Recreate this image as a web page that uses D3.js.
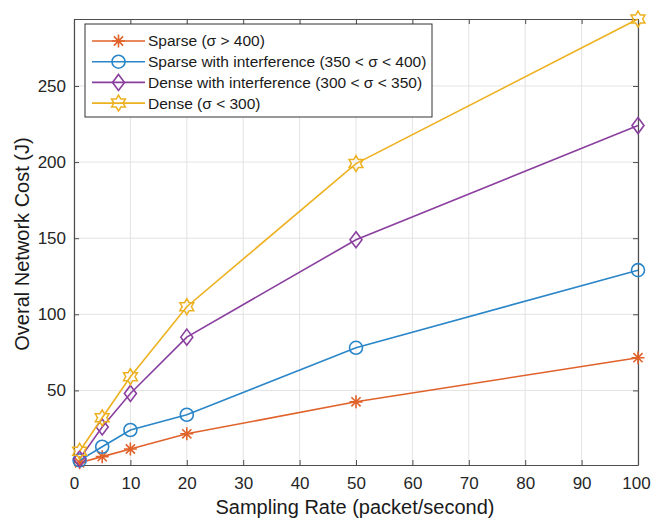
<!DOCTYPE html>
<html><head><meta charset="utf-8">
<script src="https://cdn.jsdelivr.net/npm/d3@7"></script>
<style>body{margin:0;background:#fff}svg{display:block;font-family:"Liberation Sans",Arial,sans-serif}</style>
</head><body><svg id="c" width="651" height="519"></svg>
<script>
const xValues = [1, 5, 10, 20, 50, 100];
const sparse = [2.5, 6.5, 11.5, 21.5, 42.5, 71.5];
const sparseInterf = [4, 13, 24, 34, 78, 129];
const denseInterf = [5, 26, 48, 85, 149, 224];
const dense = [10, 32, 59, 105, 199, 294];
const seriesNames = ["Sparse (σ > 400)", "Sparse with interference (350 < σ < 400)", "Dense with interference (300 < σ < 350)", "Dense (σ < 300)"];
const seriesColors = ["#E0622A", "#2A86C8", "#8A3F9E", "#EDB120"];
const seriesMarkers = ["asterisk", "circle", "diamond", "hexagram"];
const xTicks = [0,10,20,30,40,50,60,70,80,90,100];
const yTicks = [50,100,150,200,250];
const xLabel = "Sampling Rate (packet/second)";
const yLabel = "Overal Network Cost (J)";

const allSeries = [sparse, sparseInterf, denseInterf, dense];
const L = 74, R = 638, T = 19, B = 465;
const svg = d3.select("#c");
const x = d3.scaleLinear().domain([0, 100]).range([L, R]);
const y = d3.scaleLinear().domain([1, 294]).range([B, T]);

// grid
svg.append("g").selectAll("line").data(xTicks).join("line")
  .attr("x1", d => x(d)).attr("x2", d => x(d)).attr("y1", T).attr("y2", B)
  .attr("stroke", "#e3e3e3").attr("stroke-width", 1);
svg.append("g").selectAll("line").data(yTicks).join("line")
  .attr("y1", d => y(d)).attr("y2", d => y(d)).attr("x1", L).attr("x2", R)
  .attr("stroke", "#e3e3e3").attr("stroke-width", 1);

// axes
const ax = svg.append("g").attr("transform", `translate(0,${B})`)
  .call(d3.axisBottom(x).tickValues(xTicks).tickSize(-5).tickPadding(12).tickSizeOuter(0));
const ay = svg.append("g").attr("transform", `translate(${L},0)`)
  .call(d3.axisLeft(y).tickValues(yTicks).tickSize(-5).tickPadding(8).tickSizeOuter(0));
const axt = svg.append("g").attr("transform", `translate(0,${T})`)
  .call(d3.axisTop(x).tickValues(xTicks).tickSize(-5).tickFormat("").tickSizeOuter(0));
const ayr = svg.append("g").attr("transform", `translate(${R},0)`)
  .call(d3.axisRight(y).tickValues(yTicks).tickSize(-5).tickFormat("").tickSizeOuter(0));
[ax, ay, axt, ayr].forEach(g => {
  g.selectAll("path").attr("stroke", "#4d4d4d").attr("stroke-width", 1.2);
  g.selectAll("line").attr("stroke", "#4d4d4d");
  g.selectAll("text").attr("fill", "#262626").style("font-size", "17px").style("font-family", '"Liberation Sans",Arial,sans-serif');
});
ax.selectAll(".tick text").filter(d => d === 100).attr("dx", "-2");

// markers
function hexagramPath(r) {
  const pts = [];
  for (let i = 0; i < 12; i++) {
    const a = -Math.PI / 2 + i * Math.PI / 6;
    const rr = i % 2 === 0 ? r : r / Math.sqrt(3);
    pts.push([rr * Math.cos(a), rr * Math.sin(a)]);
  }
  return "M" + pts.map(p => p.join(",")).join("L") + "Z";
}
function drawMarker(g, type, color) {
  if (type === "circle") g.append("circle").attr("r", 6.5).attr("fill", "none").attr("stroke", color).attr("stroke-width", 1.6);
  else if (type === "diamond") g.append("path").attr("d", "M0,-8L6,0L0,8L-6,0Z").attr("fill", "none").attr("stroke", color).attr("stroke-width", 1.6);
  else if (type === "hexagram") g.append("path").attr("d", hexagramPath(8)).attr("fill", "none").attr("stroke", color).attr("stroke-width", 1.5);
  else {
    const r = 6.5, d = r * Math.SQRT1_2;
    g.append("path").attr("d", `M${-r},0L${r},0M0,${-r}L0,${r}M${-d},${-d}L${d},${d}M${-d},${d}L${d},${-d}`)
      .attr("stroke", color).attr("stroke-width", 1.6).attr("fill", "none");
  }
}

const line = d3.line().x((d, i) => x(xValues[i])).y(d => y(d));
allSeries.forEach((s, k) => {
  const g = svg.append("g");
  g.append("path").datum(s).attr("d", line).attr("fill", "none").attr("stroke", seriesColors[k]).attr("stroke-width", 1.6);
  s.forEach((v, i) => {
    const mg = g.append("g").attr("transform", `translate(${x(xValues[i])},${y(v)})`);
    drawMarker(mg, seriesMarkers[k], seriesColors[k]);
  });
});

// legend
const lg = svg.append("g");
lg.append("rect").attr("x", 85).attr("y", 24).attr("width", 347).attr("height", 93)
  .attr("fill", "#fff").attr("stroke", "#333").attr("stroke-width", 1);
seriesNames.forEach((n, k) => {
  const yy = 41 + k * 20.7;
  lg.append("line").attr("x1", 92).attr("x2", 145).attr("y1", yy).attr("y2", yy).attr("stroke", seriesColors[k]).attr("stroke-width", 1.6);
  drawMarker(lg.append("g").attr("transform", `translate(118.5,${yy})`), seriesMarkers[k], seriesColors[k]);
  lg.append("text").attr("x", 148).attr("y", yy).attr("dy", "0.35em").attr("fill", "#1a1a1a")
    .style("font-size", "15.5px").text(n);
});

// axis labels
svg.append("text").attr("x", 355).attr("y", 514).attr("text-anchor", "middle")
  .attr("fill", "#1a1a1a").style("font-size", "20px").text(xLabel);
svg.append("text").attr("transform", `translate(29,244) rotate(-90)`).attr("text-anchor", "middle")
  .attr("fill", "#1a1a1a").style("font-size", "20px").text(yLabel);
</script></body></html>
